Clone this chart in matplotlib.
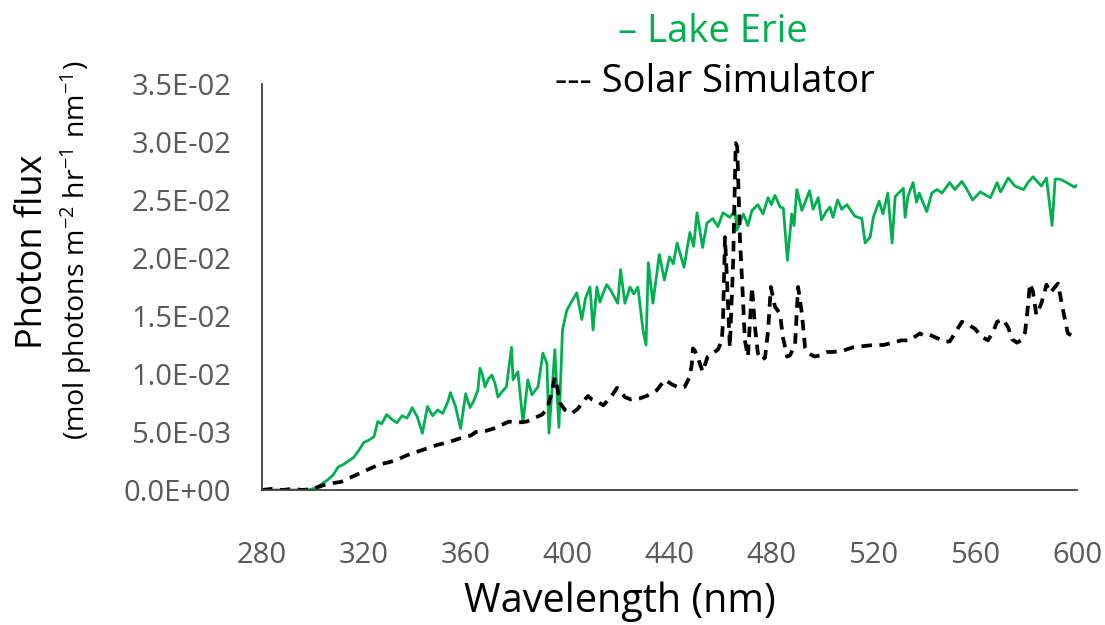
import matplotlib
matplotlib.use('Agg')

import matplotlib.pyplot as plt

plt.rcParams['font.family'] = ['Open Sans', 'DejaVu Sans']
plt.rcParams['mathtext.fontset'] = 'custom'
plt.rcParams['mathtext.rm'] = 'Open Sans'
plt.rcParams['mathtext.it'] = 'Open Sans'

# Lake Erie spectrum (x1e-3 mol photons m-2 hr-1 nm-1)
erie_wl = [280, 285, 290, 295, 298, 300, 302, 304, 306, 308, 310, 312, 314, 316, 318,
           320, 322, 324, 325.5, 327, 329, 331, 333, 335, 337, 339, 341, 343, 345, 347,
           349, 351, 353, 354, 356, 358, 360, 361.7, 363, 364.8, 365.6, 366.5, 367.6, 369,
           370.3, 371.5, 372.7, 374, 376, 378, 378.6, 380.5, 382.5, 384.4, 386, 388.4,
           390.3, 391.9, 392.7, 395, 396.6, 398, 399.7, 402, 403.6, 405.6, 407, 408.8, 410,
           411.5, 412.7, 414, 415.4, 417, 419.7, 420.8, 422.5, 424.5, 426, 427.6, 429.6,
           430.8, 431.7, 433.5, 436, 438, 440, 441.5, 443, 445.7, 448, 449.5, 450.8, 453,
           454.7, 457, 459, 461, 463.7, 465.7, 466.5, 469, 470.8, 472.4, 474.7, 476.7,
           478.7, 480, 481.4, 483.4, 484.7, 486.3, 488, 488.9, 490, 492, 495, 496.4, 498.4,
           499.7, 501.5, 503, 504.2, 506, 507.6, 509.6, 512.8, 515.5, 516.8, 518.8, 520,
           522.3, 523.8, 525.7, 527.4, 528.6, 531.8, 532.5, 533.6, 535.6, 537, 538, 541,
           543, 545, 547, 550, 552, 554.8, 556.8, 559, 562, 566, 568.6, 570, 573, 575.6,
           579, 580.7, 582.7, 586, 588, 590.2, 591.4, 593.3, 596, 599, 600]
erie_flux = [0, 0, 0, 0, 0, 0.1, 0.3, 0.6, 0.9, 1.3, 2.0, 2.2, 2.5, 2.8, 3.4,
             4.1, 4.3, 4.6, 5.9, 5.7, 6.5, 6.1, 5.8, 6.4, 6.2, 7.1, 6.3, 4.9, 7.2, 6.4,
             6.9, 6.6, 7.6, 8.4, 7.2, 5.3, 8.3, 7.1, 7.6, 8.6, 10.5, 10.0, 8.9, 9.6,
             9.9, 9.2, 8.0, 8.4, 8.9, 12.3, 9.5, 10.2, 5.8, 9.5, 8.2, 8.9,
             11.8, 10.9, 4.9, 12.1, 5.4, 13.8, 15.5, 16.4, 17.0, 14.7, 16.5, 17.5, 13.8,
             17.5, 16.2, 17.0, 17.7, 17.2, 16.1, 19.0, 16.1, 17.5, 16.9, 17.5, 13.8,
             12.5, 19.6, 16.1, 20.3, 18.1, 20.1, 19.5, 21.3, 19.2, 22.2, 21.0, 23.9, 20.9,
             23.0, 23.4, 22.7, 23.9, 23.5, 24.1, 22.4, 23.8, 22.8, 24.1, 24.6, 23.8,
             25.2, 24.6, 25.4, 24.4, 24.3, 19.8, 23.8, 22.8, 25.9, 24.1, 25.8, 24.2, 25.2,
             23.3, 24.0, 24.4, 23.5, 25.0, 24.2, 24.6, 23.6, 23.4, 21.3, 21.8, 23.5,
             24.9, 23.8, 25.6, 21.3, 25.3, 26.0, 23.5, 25.3, 26.5, 24.8, 25.6, 24.0,
             25.6, 25.9, 25.6, 26.5, 25.9, 26.6, 25.9, 25.0, 25.7, 25.2, 26.5, 25.7, 26.9, 26.2,
             25.9, 26.5, 27.0, 26.2, 26.9, 22.8, 26.8, 26.8, 26.5, 26.1, 26.3]

# Solar simulator spectrum (x1e-3 mol photons m-2 hr-1 nm-1)
sim_wl = [280, 284, 288, 292, 296, 300, 304, 308, 311, 315, 319, 323, 326, 330, 333,
          337, 341, 345, 349, 353, 357, 362, 364, 368, 371, 374, 377, 380, 384, 387, 390,
          392, 393.8, 395, 396, 397, 399, 401.7, 404, 406.8, 408, 409.6, 412, 414, 417,
          419.4, 421, 422.5, 425, 428.4, 431, 435, 438.2, 441, 444, 446, 448, 448.8, 449.2,
          450, 451, 453, 455, 457, 459, 460.5, 461, 461.8, 462.5, 463.7, 465, 466, 466.6,
          467.7, 468.5, 469.6, 470.8, 472.4, 473.6, 474.7, 476, 477.5, 478.7, 479.8, 481.4,
          483.4, 484.5, 486.2, 487.3, 489.3, 490.5, 492, 493.2, 494.4, 497, 499, 502, 504,
          508, 512, 516, 520, 524, 527.7, 531, 534.4, 535.6, 538.3, 540, 542, 545, 548,
          550, 552, 554.8, 556.8, 560, 562, 565, 567, 568.6, 571, 573, 574.5, 576.4, 578,
          579.6, 580.7, 581.5, 582.7, 584, 586, 588, 589.5, 590.6, 592.5, 594.5, 596.4, 598]
sim_flux = [0, 0.1, 0, 0.1, 0, 0.1, 0.4, 0.6, 0.7, 1.1, 1.5, 1.9, 2.2, 2.4, 2.6,
            3.0, 3.3, 3.6, 3.9, 4.1, 4.4, 4.7, 5.0, 5.1, 5.3, 5.6, 5.9, 5.8, 5.9, 6.2, 6.5,
            7.0, 8.4, 9.7, 8.8, 7.5, 6.9, 6.6, 7.0, 7.8, 8.1, 7.8, 7.6, 7.3, 8.0,
            8.8, 8.5, 8.0, 7.8, 7.9, 8.1, 8.6, 9.5, 9.1, 8.8, 8.9, 9.8, 10.9, 12.2,
            12.0, 11.5, 10.2, 11.5, 11.8, 12.1, 12.8, 14.4, 21.8, 18.5, 12.3, 19.6, 29.9, 29.6,
            21.5, 18.1, 12.9, 11.5, 17.5, 14.0, 11.8, 11.2, 11.4, 13.7, 17.5, 15.8,
            15.2, 13.2, 11.5, 11.6, 12.5, 17.5, 15.2, 12.3, 11.8, 11.5, 11.6, 11.9, 11.9,
            12.0, 12.3, 12.4, 12.5, 12.5, 12.7, 12.9, 12.9, 13.1, 13.5, 13.3, 13.4, 13.1, 12.8,
            12.8, 13.5, 14.5, 14.3, 13.9, 13.3, 12.9, 13.6, 14.5, 14.7, 14.0, 13.0, 12.7, 12.9,
            13.6, 15.8, 17.8, 17.1, 15.1, 16.1, 17.7, 17.0, 17.3, 17.8, 15.5, 13.5, 13.3]

x_ticks = [280, 320, 360, 400, 440, 480, 520, 560, 600]
y_ticks = [0, 0.005, 0.01, 0.015, 0.02, 0.025, 0.03, 0.035]
y_labels = ['0.0E+00', '5.0E-03', '1.0E-02', '1.5E-02', '2.0E-02', '2.5E-02', '3.0E-02', '3.5E-02']

green = '#00B050'
grey = '#595959'

fig = plt.figure(figsize=(11.05, 6.25), dpi=100)
ax = fig.add_axes([0.237, 0.216, 0.7377, 0.6496])

ax.plot(erie_wl, [v / 1000 for v in erie_flux], color=green, lw=2.0)
ax.plot(sim_wl, [v / 1000 for v in sim_flux], color='black', lw=2.7,
        linestyle=(0, (2.8, 2.0)))

ax.set_xlim(280, 600)
ax.set_ylim(0, 0.035)
ax.set_xticks(x_ticks)
ax.set_yticks(y_ticks)
ax.set_yticklabels(y_labels)
ax.tick_params(length=0, labelsize=21, colors=grey)
ax.tick_params(axis='x', pad=37)
ax.tick_params(axis='y', pad=22)

for side in ['top', 'right']:
    ax.spines[side].set_visible(False)
for side in ['left', 'bottom']:
    ax.spines[side].set_color('#404040')
    ax.spines[side].set_linewidth(1.3)

fig.text(620 / 1105, 1 - 602 / 625, 'Wavelength (nm)', fontsize=28.5,
         ha='center', va='center', color='black')
fig.text(33 / 1105, 1 - 252 / 625, 'Photon flux', fontsize=26, rotation=90,
         ha='center', va='center', color='black')
fig.text(76 / 1105, 1 - 250 / 625, r'(mol photons m$^{-2}$ hr$^{-1}$ nm$^{-1}$)',
         fontsize=20.5, rotation=90, ha='center', va='center', color='black')

fig.text(713 / 1105, 1 - 32 / 625, '\u2013 Lake Erie', fontsize=27.5,
         ha='center', va='center', color=green)
fig.text(715 / 1105, 1 - 82 / 625, '--- Solar Simulator', fontsize=27.5,
         ha='center', va='center', color='black')

plt.savefig('out.png', dpi=100)
